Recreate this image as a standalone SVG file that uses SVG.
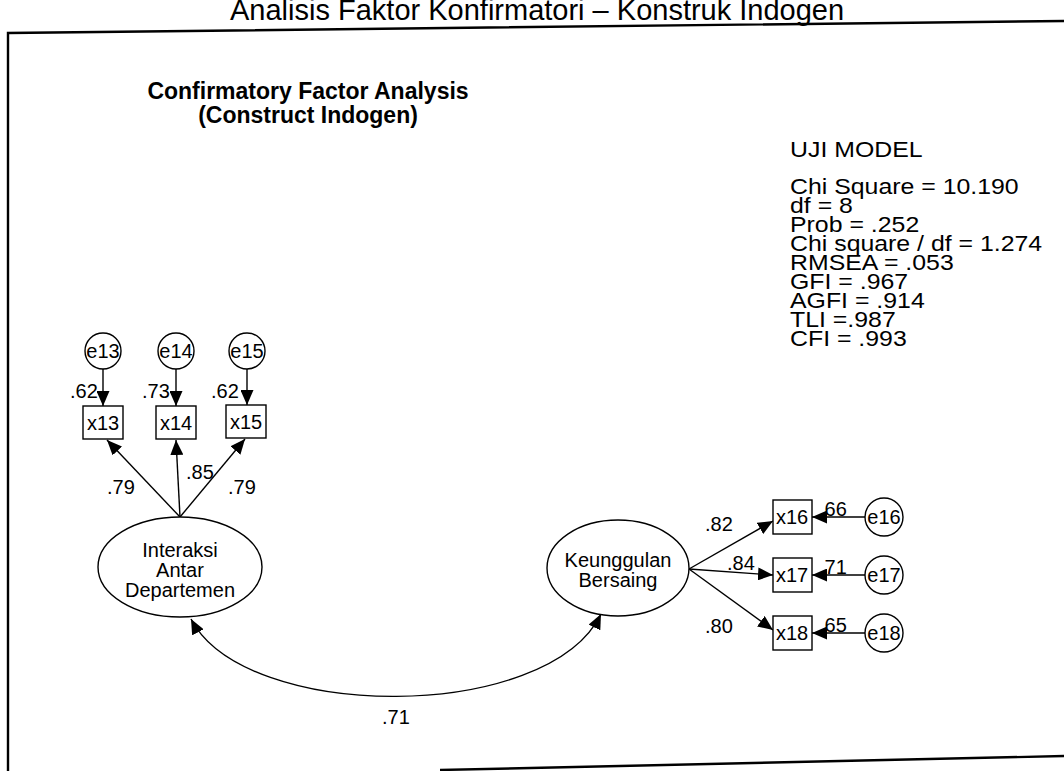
<svg xmlns="http://www.w3.org/2000/svg" width="1064" height="771" viewBox="0 0 1064 771">
<defs>
<marker id="ah" markerUnits="userSpaceOnUse" viewBox="0 0 15 13" markerWidth="15" markerHeight="13" refX="15" refY="6.5" orient="auto-start-reverse">
<path d="M0,0 L15,6.5 L0,13 z" fill="#000"/>
</marker>
</defs>
<style>
text{font-family:"Liberation Sans",Arial,sans-serif;fill:#000}
.n{font-size:20px}
.e{font-size:20px}
.c{text-anchor:middle}
.s{font-size:22px}
.shape{fill:#fff;stroke:#000;stroke-width:1.4}
.ar{fill:none;stroke:#000;stroke-width:1.4;marker-end:url(#ah)}
.frame{fill:none;stroke:#000;stroke-width:2.4}
</style>
<rect width="1064" height="771" fill="#fff"/>
<g id="frame">
<polyline class="frame" points="8,771 8,33 1064,21"/>
<line class="frame" x1="440" y1="770" x2="1064" y2="756"/>
</g>
<g id="titles">
<text x="230" y="20" font-size="29">Analisis Faktor Konfirmatori – Konstruk Indogen</text>
<text x="308" y="99" font-size="23" font-weight="bold" class="c">Confirmatory Factor Analysis</text>
<text x="308" y="123" font-size="23" font-weight="bold" class="c">(Construct Indogen)</text>
</g>
<g id="fit" transform="translate(790 0) scale(1.13 1)">
<text class="s" x="0" y="157">UJI MODEL</text>
<text class="s" x="0" y="194">Chi Square = 10.190</text>
<text class="s" x="0" y="213">df = 8</text>
<text class="s" x="0" y="232">Prob = .252</text>
<text class="s" x="0" y="251">Chi square / df = 1.274</text>
<text class="s" x="0" y="270">RMSEA = .053</text>
<text class="s" x="0" y="289">GFI = .967</text>
<text class="s" x="0" y="308">AGFI = .914</text>
<text class="s" x="0" y="327">TLI =.987</text>
<text class="s" x="0" y="346">CFI = .993</text>
</g>
<g id="connectors">
<line class="ar" x1="103" y1="369" x2="103" y2="406"/>
<line class="ar" x1="176" y1="369" x2="176" y2="406"/>
<line class="ar" x1="247" y1="369" x2="247" y2="405"/>
<line class="ar" x1="180" y1="517" x2="107" y2="440"/>
<line class="ar" x1="180" y1="517" x2="176" y2="440"/>
<line class="ar" x1="180" y1="517" x2="245" y2="439"/>
<line class="ar" x1="689" y1="569" x2="773" y2="521"/>
<line class="ar" x1="689" y1="569" x2="773" y2="575"/>
<line class="ar" x1="689" y1="569" x2="773" y2="630"/>
<line class="ar" x1="865" y1="517" x2="812" y2="517"/>
<line class="ar" x1="865" y1="575" x2="812" y2="575"/>
<line class="ar" x1="865" y1="633" x2="812" y2="633"/>
<path class="ar" style="marker-start:url(#ah)" d="M191,619 C245,723 548,723 601,614"/>
<g class="n">
<text x="70" y="398">.62</text>
<text x="142" y="398">.73</text>
<text x="211" y="398">.62</text>
<text x="107" y="494">.79</text>
<text x="186" y="479">.85</text>
<text x="228" y="494">.79</text>
<text x="705" y="531">.82</text>
<text x="727" y="570">.84</text>
<text x="705" y="633">.80</text>
<text x="819" y="516">.66</text>
<text x="819" y="574">.71</text>
<text x="819" y="632">.65</text>
<text x="382" y="724">.71</text>
</g>
</g>
<g id="e13"><circle class="shape" cx="103" cy="351" r="18"/><text class="e c" x="103" y="358">e13</text></g>
<g id="e14"><circle class="shape" cx="176" cy="351" r="18"/><text class="e c" x="176" y="358">e14</text></g>
<g id="e15"><circle class="shape" cx="247" cy="351" r="18"/><text class="e c" x="247" y="358">e15</text></g>
<g id="x13"><rect class="shape" x="83" y="406" width="40" height="33"/><text class="n c" x="103" y="430">x13</text></g>
<g id="x14"><rect class="shape" x="156" y="406" width="40" height="33"/><text class="n c" x="176" y="430">x14</text></g>
<g id="x15"><rect class="shape" x="226" y="405" width="40" height="33"/><text class="n c" x="246" y="429">x15</text></g>
<g id="interaksi"><ellipse class="shape" cx="180" cy="567" rx="82" ry="50"/>
<text class="n c" x="180" y="557">Interaksi</text><text class="n c" x="180" y="577">Antar</text><text class="n c" x="180" y="597">Departemen</text></g>
<g id="keunggulan"><ellipse class="shape" cx="618" cy="568" rx="71" ry="48"/>
<text class="n c" x="618" y="567">Keunggulan</text><text class="n c" x="618" y="587">Bersaing</text></g>
<g id="x16"><rect class="shape" x="773" y="500" width="39" height="34"/><text class="n c" x="792" y="524">x16</text></g>
<g id="x17"><rect class="shape" x="773" y="558" width="39" height="34"/><text class="n c" x="792" y="582">x17</text></g>
<g id="x18"><rect class="shape" x="773" y="616" width="39" height="34"/><text class="n c" x="792" y="640">x18</text></g>
<g id="e16"><circle class="shape" cx="884" cy="517" r="19"/><text class="e c" x="884" y="524">e16</text></g>
<g id="e17"><circle class="shape" cx="884" cy="575" r="19"/><text class="e c" x="884" y="582">e17</text></g>
<g id="e18"><circle class="shape" cx="884" cy="633" r="19"/><text class="e c" x="884" y="640">e18</text></g>
</svg>
